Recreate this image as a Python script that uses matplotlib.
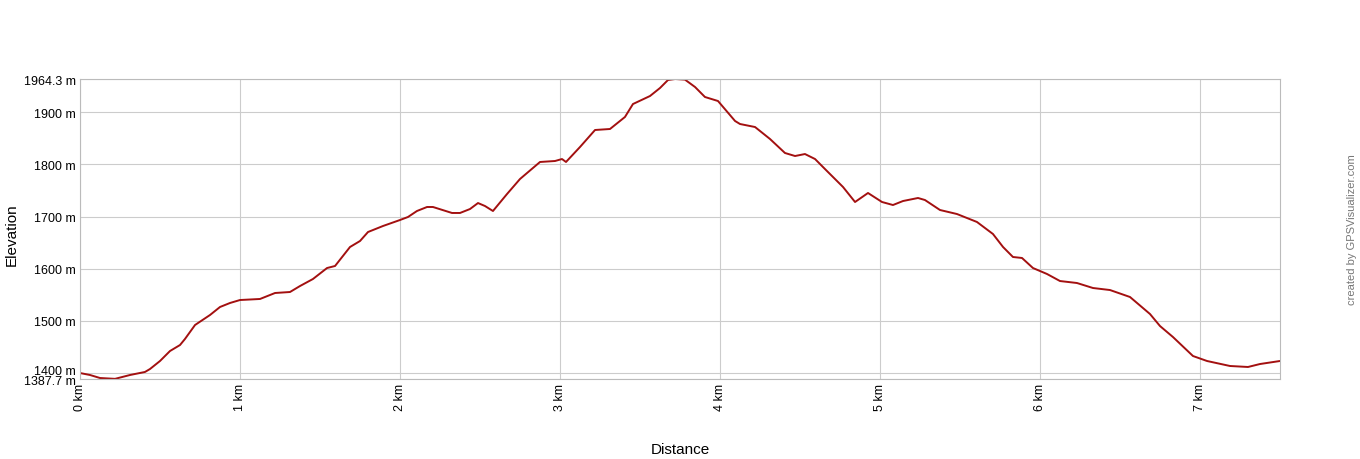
import matplotlib
matplotlib.use("Agg")
import matplotlib.pyplot as plt
import matplotlib.transforms as mtransforms

dist_km = [0.0, 0.0625, 0.125, 0.219, 0.3125, 0.406, 0.4375, 0.5, 0.5625, 0.625, 0.656, 0.719,
           0.8125, 0.875, 0.9375, 1.0, 1.125, 1.219, 1.3125, 1.375, 1.456, 1.544, 1.594, 1.6875,
           1.75, 1.8, 1.894, 2.0, 2.05, 2.106, 2.169, 2.206, 2.325, 2.375, 2.4375, 2.4875, 2.531,
           2.581, 2.669, 2.75, 2.875, 2.969, 3.0125, 3.0375, 3.125, 3.219, 3.3125, 3.406, 3.456,
           3.5625, 3.625, 3.675, 3.72, 3.781, 3.844, 3.906, 3.9875, 4.094, 4.125, 4.219, 4.3125,
           4.406, 4.469, 4.531, 4.594, 4.656, 4.769, 4.844, 4.925, 5.0125, 5.081, 5.144, 5.2375,
           5.281, 5.375, 5.481, 5.606, 5.706, 5.769, 5.831, 5.8875, 5.956, 6.044, 6.125, 6.231,
           6.331, 6.4375, 6.5625, 6.6875, 6.75, 6.831, 6.956, 7.044, 7.1875, 7.3, 7.375, 7.5]
elev_m = [1399.2, 1395.4, 1389.6, 1388.0, 1395.4, 1401.2, 1406.9, 1422.3, 1441.5, 1453.0, 1464.6,
          1491.5, 1510.7, 1526.1, 1533.8, 1539.5, 1541.5, 1553.0, 1554.9, 1566.4, 1579.9, 1601.0,
          1604.9, 1641.4, 1652.9, 1670.2, 1681.8, 1693.3, 1699.1, 1710.6, 1718.3, 1718.3, 1706.8,
          1706.8, 1714.4, 1725.9, 1720.2, 1710.6, 1743.3, 1772.1, 1804.8, 1806.7, 1810.5, 1804.8,
          1833.6, 1866.3, 1868.2, 1891.3, 1916.2, 1931.6, 1947.0, 1962.4, 1964.3, 1963.1, 1948.9,
          1929.7, 1922.0, 1883.6, 1877.8, 1872.0, 1849.0, 1822.1, 1816.3, 1820.1, 1810.5, 1791.3,
          1756.7, 1727.9, 1745.2, 1727.9, 1722.1, 1729.8, 1735.6, 1731.7, 1712.5, 1704.8, 1689.5,
          1666.4, 1641.4, 1622.2, 1620.3, 1601.0, 1589.5, 1576.0, 1572.2, 1562.6, 1558.7, 1545.3,
          1512.6, 1489.5, 1468.4, 1431.9, 1422.3, 1412.7, 1410.8, 1416.5, 1422.3]

y_ticks = [1387.7, 1400, 1500, 1600, 1700, 1800, 1900, 1964.3]
y_tick_labels = ["1387.7 m", "1400 m", "1500 m", "1600 m", "1700 m", "1800 m", "1900 m", "1964.3 m"]
x_ticks = [0, 1, 2, 3, 4, 5, 6, 7]
x_tick_labels = ["0 km", "1 km", "2 km", "3 km", "4 km", "5 km", "6 km", "7 km"]

plt.rcParams['font.family'] = ['Liberation Sans', 'DejaVu Sans']

W, H = 1360, 460
fig = plt.figure(figsize=(W / 100, H / 100), dpi=100)
ax = fig.add_axes([80 / W, (H - 380) / H, 1200 / W, 300 / H])

ax.plot(dist_km, elev_m, color='#a31010', lw=1.4, solid_joinstyle='round')
ax.set_xlim(0, 7.5)
ax.set_ylim(1387.7, 1964.3)

ax.set_yticks(y_ticks)
ax.set_yticklabels(y_tick_labels, fontsize=9)
ax.set_xticks(x_ticks)
ax.set_xticklabels(x_tick_labels, fontsize=9, rotation=90)
ax.tick_params(length=0, pad=3, colors='#000000')
ax.grid(True, color='#cccccc', lw=0.8)
ax.set_axisbelow(True)
for s in ax.spines.values():
    s.set_color('#bbbbbb')
    s.set_linewidth(0.8)

# nudge the crowded bottom labels apart a little, as in the reference
fig.canvas.draw()
ylabels = ax.get_yticklabels()
ylabels[1].set_transform(ylabels[1].get_transform() +
                         mtransforms.ScaledTranslation(0, 3 / 100, fig.dpi_scale_trans))
ylabels[0].set_transform(ylabels[0].get_transform() +
                         mtransforms.ScaledTranslation(0, -1 / 100, fig.dpi_scale_trans))

fig.text(680 / W, 1 - 450 / H, "Distance", ha='center', va='center', fontsize=11)
fig.text(12 / W, 1 - 235 / H, "Elevation", ha='center', va='center', rotation=90, fontsize=11)
fig.text(1352 / W, 1 - 230 / H, "created by GPSVisualizer.com", ha='center', va='center',
         rotation=90, fontsize=8, color='#777777')

fig.savefig("out.png", dpi=100, facecolor='white')
